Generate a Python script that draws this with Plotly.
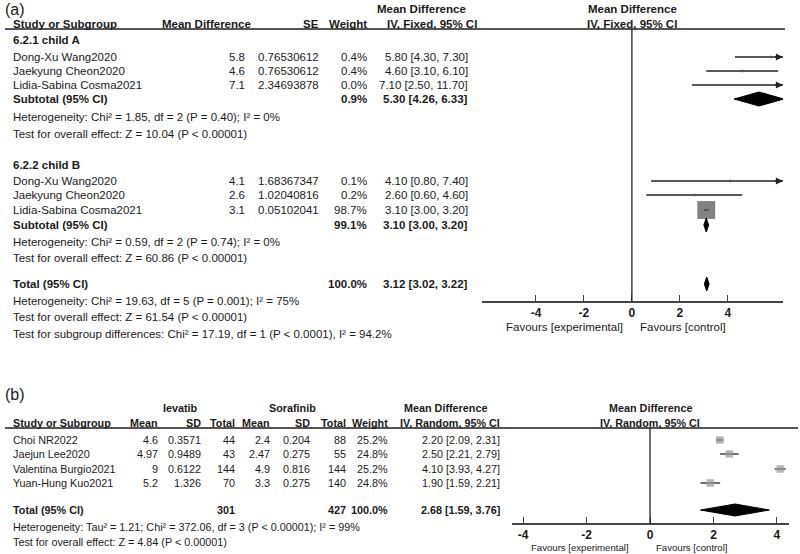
import plotly.graph_objects as go

# ---- panel (a) data ----
studies_a = ["Dong-Xu Wang2020", "Jaekyung Cheon2020", "Lidia-Sabina Cosma2021"]

md_a1 = [5.8, 4.6, 7.1]
se_a1 = ["0.76530612", "0.76530612", "2.34693878"]
weight_a1 = [0.4, 0.4, 0.0]
lo_a1 = [4.30, 3.10, 2.50]
hi_a1 = [7.30, 6.10, 11.70]

md_a2 = [4.1, 2.6, 3.1]
se_a2 = ["1.68367347", "1.02040816", "0.05102041"]
weight_a2 = [0.1, 0.2, 98.7]
lo_a2 = [0.80, 0.60, 3.00]
hi_a2 = [7.40, 4.60, 3.20]

# subtotal / total: estimate, lower, upper, weight
sub_a1 = [5.30, 4.26, 6.33, 0.9]
sub_a2 = [3.10, 3.00, 3.20, 99.1]
total_a = [3.12, 3.02, 3.22, 100.0]

het_a = [
    "Heterogeneity: Chi² = 1.85, df = 2 (P = 0.40); I² = 0%",
    "Test for overall effect: Z = 10.04 (P < 0.00001)",
    "Heterogeneity: Chi² = 0.59, df = 2 (P = 0.74); I² = 0%",
    "Test for overall effect: Z = 60.86 (P < 0.00001)",
    "Heterogeneity: Chi² = 19.63, df = 5 (P = 0.001); I² = 75%",
    "Test for overall effect: Z = 61.54 (P < 0.00001)",
    "Test for subgroup differences: Chi² = 17.19, df = 1 (P < 0.0001), I² = 94.2%",
]

# ---- panel (b) data ----
studies_b = ["Choi NR2022", "Jaejun Lee2020", "Valentina Burgio2021", "Yuan-Hung Kuo2021"]
lev_mean = ["4.6", "4.97", "9", "5.2"]
lev_sd = ["0.3571", "0.9489", "0.6122", "1.326"]
lev_n = [44, 43, 144, 70]
sor_mean = ["2.4", "2.47", "4.9", "3.3"]
sor_sd = ["0.204", "0.275", "0.816", "0.275"]
sor_n = [88, 55, 144, 140]
weight_b = [25.2, 24.8, 25.2, 24.8]
md_b = [2.20, 2.50, 4.10, 1.90]
lo_b = [2.09, 2.21, 3.93, 1.59]
hi_b = [2.31, 2.79, 4.27, 2.21]
total_b = [2.68, 1.59, 3.76, 100.0]
het_b = [
    "Heterogeneity: Tau² = 1.21; Chi² = 372.06, df = 3 (P < 0.00001); I² = 99%",
    "Test for overall effect: Z = 4.84 (P < 0.00001)",
]

# ---- layout: vertical pixel positions of rows ----
W, H = 800, 554
FONT = "Liberation Sans, Arial, sans-serif"
TXT = "#1a1a1a"
FS_A = 11.5
FS_B = 10.8

ya_head1, ya_head2, ya_rule = 9, 24, 29
ya_g1 = 40
ya_r1 = [57, 71, 85]
ya_sub1, ya_het1 = 99, [117, 134]
ya_g2 = 165
ya_r2 = [181, 195, 210]
ya_sub2, ya_het2 = 225, [242, 258]
ya_tot, ya_het3 = 284, [301, 317, 334]
ya_axis, ya_fav = 301, 327

yb_label = 394
yb_head1, yb_head2, yb_rule = 408, 423, 428
yb_rows = [440, 454, 469, 483]
yb_tot, yb_het = 510, [527, 542]
yb_axis, yb_fav = 523, 547
yb_top = 380

XA = [-6.25, 6.3]
XB = [-4.35, 4.38]

fig = go.Figure()
ann = []


def txt(x, y, s, anchor="left", bold=False, size=FS_A):
    ann.append(dict(
        x=x / W, y=1 - y / H, xref="paper", yref="paper", text=f"<b>{s}</b>" if bold else s,
        showarrow=False, xanchor=anchor, yanchor="middle",
        font=dict(family=FONT, size=size, color=TXT),
    ))


def txtb(x, y, s, anchor="left", bold=False, size=FS_B):
    txt(x, y, s, anchor, bold, size)


def ci(s):
    return f"{s[0]:.2f} [{s[1]:.2f}, {s[2]:.2f}]"


def diamond(s, y, h, xa, ya):
    fig.add_trace(go.Scatter(x=[s[1], s[0], s[2], s[0], s[1]],
                             y=[y, y - h, y, y + h, y],
                             mode="lines", fill="toself", fillcolor="#000", line=dict(color="#000", width=1),
                             xaxis=xa, yaxis=ya, hoverinfo="skip"))


# ---- panel (a) table ----
txt(3, 9, "(a)", size=16)
txt(375, ya_head1, "Mean Difference", bold=True)
txt(632, ya_head1, "Mean Difference", "center", bold=True)
txt(11, ya_head2, "Study or Subgroup", bold=True)
txt(160, ya_head2, "Mean Difference", bold=True)
txt(321, ya_head2, "SE", "right", bold=True)
txt(369, ya_head2, "Weight", "right", bold=True)
txt(385, ya_head2, "IV, Fixed, 95% CI", bold=True)
txt(632, ya_head2, "IV, Fixed, 95% CI", "center", bold=True)

groups_a = [
    ("6.2.1 child A", ya_g1, ya_r1, md_a1, se_a1, weight_a1, lo_a1, hi_a1, sub_a1, ya_sub1, het_a[0:2], ya_het1),
    ("6.2.2 child B", ya_g2, ya_r2, md_a2, se_a2, weight_a2, lo_a2, hi_a2, sub_a2, ya_sub2, het_a[2:4], ya_het2),
]

for name, yg, rows, md, se, w, lo, hi, sub, ysub, het, yhet in groups_a:
    txt(11, yg, name, bold=True)
    for i, y in enumerate(rows):
        txt(11, y, studies_a[i])
        txt(247, y, f"{md[i]}", "right")
        txt(321, y, se[i], "right")
        txt(369, y, f"{w[i]:.1f}%", "right")
        txt(470, y, ci([md[i], lo[i], hi[i]]), "right")
    txt(11, ysub, "Subtotal (95% CI)", bold=True)
    txt(369, ysub, f"{sub[3]:.1f}%", "right", bold=True)
    txt(470, ysub, ci(sub), "right", bold=True)
    for s, y in zip(het, yhet):
        txt(11, y, s)

    # CI lines
    xs, ys = [], []
    for i, y in enumerate(rows):
        xs += [lo[i], hi[i], None]
        ys += [y, y, None]
    fig.add_trace(go.Scatter(x=xs, y=ys, mode="lines", line=dict(color="#222", width=1.3),
                             xaxis="x", yaxis="y", hoverinfo="skip"))
    # squares sized by weight
    sizes = [max(2.5, (wi ** 0.5) * 1.8) for wi in w]
    fig.add_trace(go.Scatter(x=md, y=rows, mode="markers",
                             marker=dict(symbol="square", size=sizes, color="#4d4d4d", line=dict(width=0)),
                             xaxis="x", yaxis="y", hoverinfo="skip"))
    for i, y in enumerate(rows):
        if hi[i] > XA[1]:
            ann.append(dict(x=XA[1], y=y, ax=XA[1] - 0.4, ay=y, xref="x", yref="y", axref="x", ayref="y",
                            text="", showarrow=True, arrowhead=2, arrowsize=1.1, arrowwidth=1.3,
                            arrowcolor="#222"))
    diamond(sub, ysub, 7, "x", "y")

txt(11, ya_tot, "Total (95% CI)", bold=True)
txt(369, ya_tot, f"{total_a[3]:.1f}%", "right", bold=True)
txt(470, ya_tot, ci(total_a), "right", bold=True)
for s, y in zip(het_a[4:], ya_het3):
    txt(11, y, s)
diamond(total_a, ya_tot, 7, "x", "y")

txt(625, ya_fav, "Favours [experimental]", "right")
txt(638, ya_fav, "Favours [control]")

# ---- panel (b) table ----
txtb(3, yb_label, "(b)", size=16)
txtb(180, yb_head1, "Ievatib", "center", bold=True)
txtb(292, yb_head1, "Sorafinib", "center", bold=True)
txtb(445, yb_head1, "Mean Difference", "center", bold=True)
txtb(650, yb_head1, "Mean Difference", "center", bold=True)
txtb(11, yb_head2, "Study or Subgroup", bold=True)
cols_b = [160, 203, 237, 272, 312, 348, 390]
for x, s in zip(cols_b, ["Mean", "SD", "Total", "Mean", "SD", "Total", "Weight"]):
    txtb(x, yb_head2, s, "right", bold=True)
txtb(502, yb_head2, "IV, Random, 95% CI", "right", bold=True)
txtb(650, yb_head2, "IV, Random, 95% CI", "center", bold=True)

for i, y in enumerate(yb_rows):
    txtb(11, y, studies_b[i])
    vals = [lev_mean[i], lev_sd[i], str(lev_n[i]), sor_mean[i], sor_sd[i], str(sor_n[i]), f"{weight_b[i]:.1f}%"]
    for x, s in zip(cols_b, vals):
        txtb(x, y, s, "right")
    txtb(502, y, ci([md_b[i], lo_b[i], hi_b[i]]), "right")

txtb(11, yb_tot, "Total (95% CI)", bold=True)
txtb(cols_b[2], yb_tot, str(sum(lev_n)), "right", bold=True)
txtb(cols_b[5], yb_tot, str(sum(sor_n)), "right", bold=True)
txtb(cols_b[6], yb_tot, f"{total_b[3]:.1f}%", "right", bold=True)
txtb(502, yb_tot, ci(total_b), "right", bold=True)
for s, y in zip(het_b, yb_het):
    txtb(11, y, s)

xs, ys = [], []
for i, y in enumerate(yb_rows):
    xs += [lo_b[i], hi_b[i], None]
    ys += [y, y, None]
fig.add_trace(go.Scatter(x=xs, y=ys, mode="lines", line=dict(color="#222", width=1.3),
                         xaxis="x2", yaxis="y2", hoverinfo="skip"))
fig.add_trace(go.Scatter(x=md_b, y=yb_rows, mode="markers",
                         marker=dict(symbol="square", size=[(w ** 0.5) * 1.5 for w in weight_b],
                                     color="#9a9a9a", line=dict(width=0)),
                         xaxis="x2", yaxis="y2", hoverinfo="skip"))
diamond(total_b, yb_tot, 6, "x2", "y2")

txtb(631, yb_fav, "Favours [experimental]", "right", size=9.6)
txtb(654, yb_fav, "Favours [control]", size=9.6)

# ---- rules and zero lines ----
shapes = [
    dict(type="line", xref="paper", yref="y", x0=5 / W, x1=785 / W, y0=ya_rule, y1=ya_rule,
         line=dict(color="#555", width=1.8)),
    dict(type="line", xref="paper", yref="y2", x0=5 / W, x1=798 / W, y0=yb_rule, y1=yb_rule,
         line=dict(color="#555", width=1.8)),
    dict(type="line", xref="x", yref="y", x0=0, x1=0, y0=ya_rule, y1=ya_axis,
         line=dict(color="#222", width=1.3)),
    dict(type="line", xref="x2", yref="y2", x0=0, x1=0, y0=yb_rule, y1=yb_axis,
         line=dict(color="#222", width=1.3)),
]

axis_style = dict(
    showgrid=False, zeroline=False, showline=True, linecolor="#444", linewidth=1.5,
    ticks="inside", ticklen=6, tickcolor="#444", tickwidth=1.3,
    tickvals=[-4, -2, 0, 2, 4], ticktext=["-4", "-2", "0", "2", "4"],
    tickfont=dict(family=FONT, size=12, color=TXT, weight="bold"),
    fixedrange=True, automargin=False,
)
yaxis_style = dict(visible=False, fixedrange=True, automargin=False)

fig.update_layout(
    width=W, height=H,
    margin=dict(l=0, r=0, t=0, b=0, autoexpand=False),
    paper_bgcolor="white", plot_bgcolor="white",
    showlegend=False,
    xaxis=dict(domain=[482 / W, 783 / W], range=XA, anchor="y", **axis_style),
    xaxis2=dict(domain=[512 / W, 789 / W], range=XB, anchor="y2", **axis_style),
    yaxis=dict(domain=[1 - ya_axis / H, 1], range=[ya_axis, 0], anchor="x", **yaxis_style),
    yaxis2=dict(domain=[1 - yb_axis / H, 1 - yb_top / H], range=[yb_axis, yb_top], anchor="x2", **yaxis_style),
    annotations=ann,
    shapes=shapes,
)

# drop the browser's default page margin so the figure sits at the window's corner
fig.write_html("out.html", config={"displayModeBar": False},
               post_script="document.body.style.margin='0';")
